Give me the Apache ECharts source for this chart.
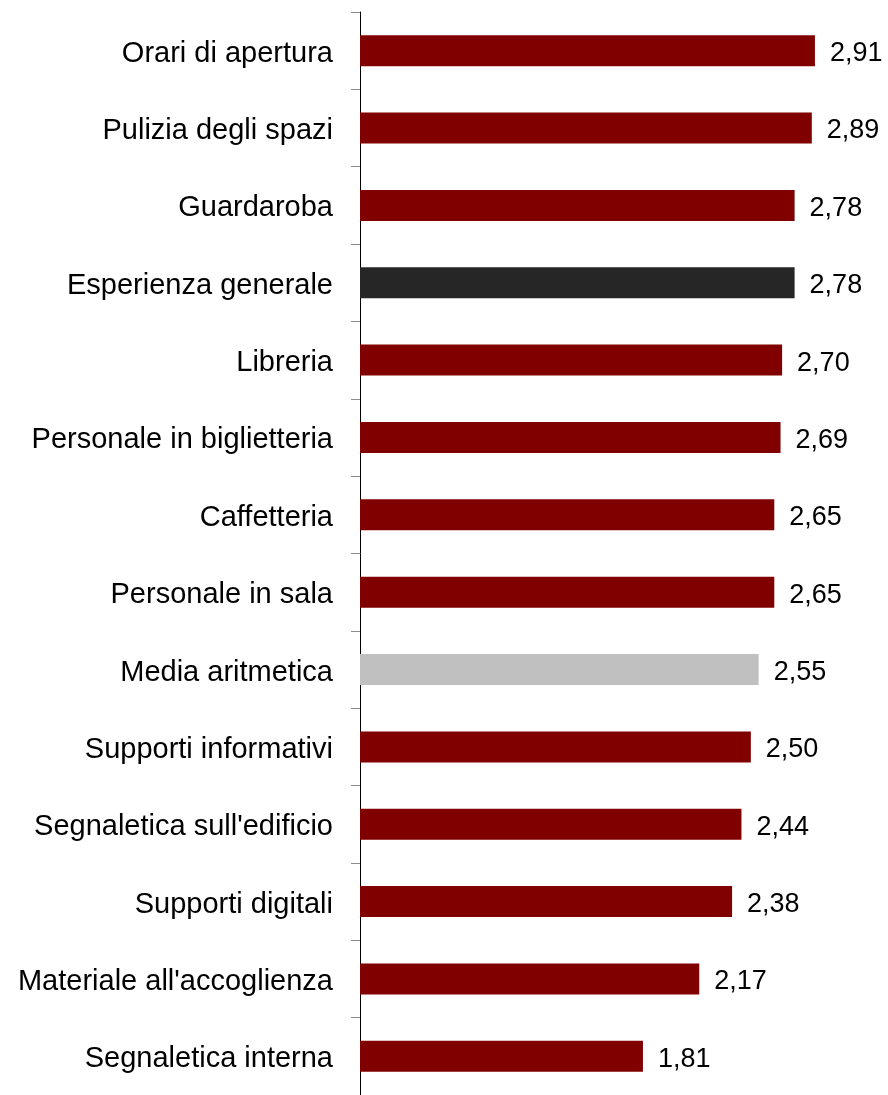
<!DOCTYPE html>
<html>
<head>
<meta charset="utf-8">
<script src="https://cdn.jsdelivr.net/npm/echarts@6/dist/echarts.min.js"></script>
<style>html,body{margin:0;padding:0;background:#fff}#c{width:888px;height:1095px}</style>
</head>
<body>
<div id="c"></div>
<script>
const categories = ["Orari di apertura","Pulizia degli spazi","Guardaroba","Esperienza generale","Libreria","Personale in biglietteria","Caffetteria","Personale in sala","Media aritmetica","Supporti informativi","Segnaletica sull'edificio","Supporti digitali","Materiale all'accoglienza","Segnaletica interna"];
const values = [2.91,2.89,2.78,2.78,2.70,2.69,2.65,2.65,2.55,2.50,2.44,2.38,2.17,1.81];
const colorDefault = '#800000';
const colorSpecial = {"Esperienza generale":"#262626","Media aritmetica":"#C0C0C0"};

const chart = echarts.init(document.getElementById('c'));
const font = "'Liberation Sans', Arial, sans-serif";
chart.setOption({
  animation: false,
  grid: {left: 360, top: 12, width: 469, height: 1089, containLabel: false},
  xAxis: {type: 'value', min: 0, max: 3, show: false},
  yAxis: {
    type: 'category', data: categories, inverse: true,
    axisLine: {show: true, lineStyle: {color: '#000', width: 1}},
    axisTick: {show: true, length: 9, lineStyle: {color: '#8c8c8c'}},
    axisLabel: {
      margin: 27,
      formatter: v => '{a|' + v + '}',
      rich: {a: {fontSize: 29, color: '#000', fontFamily: font, padding: [6, 0, 0, 0]}}
    },
    splitLine: {show: false}
  },
  series: [{
    type: 'bar',
    barWidth: 31,
    data: values.map((v, i) => ({value: v, itemStyle: {color: colorSpecial[categories[i]] || colorDefault}})),
    label: {
      show: true, position: 'right', distance: 15, offset: [0, 3],
      fontSize: 27, color: '#000', fontFamily: font,
      formatter: p => p.value.toFixed(2).replace('.', ',')
    }
  }]
});
</script>
</body>
</html>
